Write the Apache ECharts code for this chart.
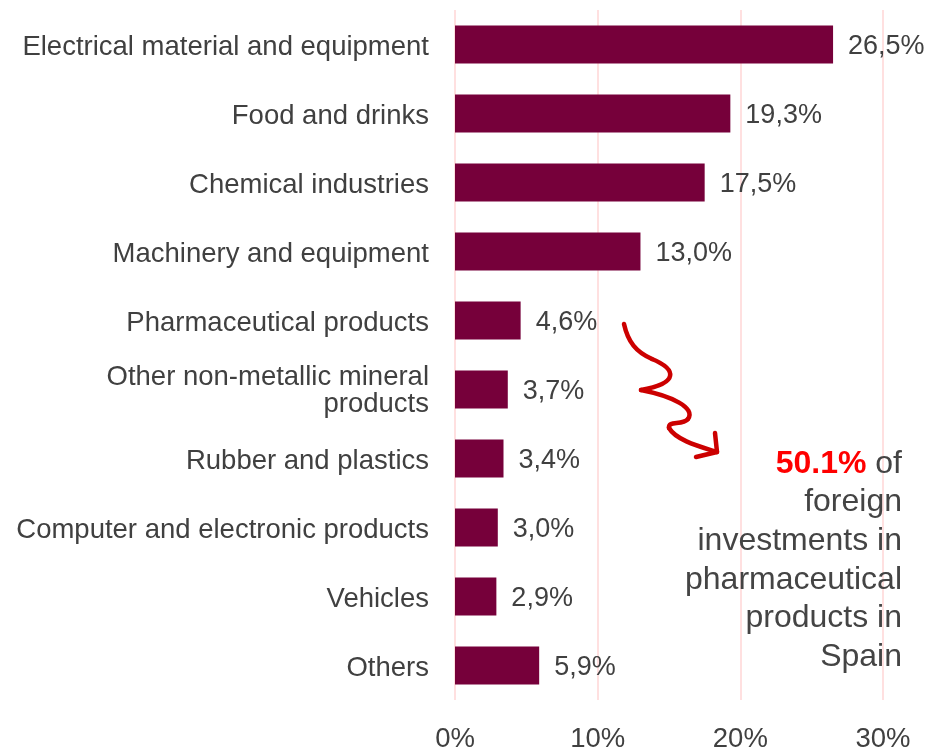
<!DOCTYPE html>
<html>
<head>
<meta charset="utf-8">
<script src="https://cdn.jsdelivr.net/npm/echarts@6/dist/echarts.min.js"></script>
<style>
html,body{margin:0;padding:0;background:#fff;}
#c{width:932px;height:747px;}
</style>
</head>
<body>
<div id="c"></div>
<script>
var categories = [
  "Electrical material and equipment",
  "Food and drinks",
  "Chemical industries",
  "Machinery and equipment",
  "Pharmaceutical products",
  "Other non-metallic mineral\nproducts",
  "Rubber and plastics",
  "Computer and electronic products",
  "Vehicles",
  "Others"
];
var values = [26.5, 19.3, 17.5, 13.0, 4.6, 3.7, 3.4, 3.0, 2.9, 5.9];
var xTicks = [0, 10, 20, 30];
var annotationLines = ["foreign", "investments in", "pharmaceutical", "products in", "Spain"];
var annotationHighlight = "50.1%";

var FONT = "'Liberation Sans', Arial, Helvetica, sans-serif";
var TEXT = "#404040";

var chart = echarts.init(document.getElementById('c'), null, {renderer: 'canvas'});

var graphics = [];
// squiggly arrow as bezier segments
var segs = [
  [624,324, 628,342, 636,352, 652,359],
  [652,359, 676,369, 680,383, 641,390],
  [641,390, 672,396, 696,408, 688,419],
  [688,419, 682,426, 668,420, 669,428],
  [669,428, 676,440, 698,446, 717,452]
];
segs.forEach(function (s) {
  graphics.push({
    type: 'bezierCurve',
    shape: {x1: s[0], y1: s[1], cpx1: s[2], cpy1: s[3], cpx2: s[4], cpy2: s[5], x2: s[6], y2: s[7]},
    style: {fill: null, stroke: '#CC0000', lineWidth: 4.5, lineCap: 'round'},
    z: 10
  });
});
graphics.push({
  type: 'polyline',
  shape: {points: [[715, 433], [717, 452], [696, 457]]},
  style: {fill: null, stroke: '#CC0000', lineWidth: 4.5, lineCap: 'round', lineJoin: 'round'},
  z: 10
});
// annotation text
var lineH = 38.6;
var annFont = 32;
graphics.push({
  type: 'text',
  x: 902, y: 464,
  style: {
    text: '{r|' + annotationHighlight + '}{g| of}',
    align: 'right', verticalAlign: 'middle',
    rich: {
      r: {fill: '#FF0000', fontSize: annFont, fontWeight: 'bold', fontFamily: FONT},
      g: {fill: '#444444', fontSize: annFont, fontFamily: FONT}
    }
  },
  z: 10
});
annotationLines.forEach(function (t, i) {
  graphics.push({
    type: 'text',
    x: 902, y: 464 + lineH * (i + 1),
    style: {
      text: t, align: 'right', verticalAlign: 'middle',
      fill: '#444444', fontSize: annFont, fontFamily: FONT
    },
    z: 10
  });
});

chart.setOption({
  animation: false,
  backgroundColor: '#ffffff',
  grid: {left: 455, right: 49, top: 10, bottom: 47, containLabel: false, outerBoundsMode: 'none'},
  xAxis: {
    type: 'value',
    min: 0, max: 30, interval: 10,
    axisLine: {show: false},
    axisTick: {show: false},
    splitLine: {show: true, lineStyle: {color: '#FFD6D6', width: 1.5}},
    axisLabel: {
      color: TEXT, fontSize: 27.5, fontFamily: FONT, margin: 25,
      formatter: function (v) { return v + '%'; }
    }
  },
  yAxis: {
    type: 'category',
    data: categories,
    inverse: true,
    axisLine: {show: false},
    axisTick: {show: false},
    splitLine: {show: false},
    axisLabel: {
      color: TEXT, fontSize: 27.5, fontFamily: FONT, margin: 26,
      lineHeight: 30, align: 'right',
      formatter: function (v) {
        return v.split('\n').map(function (line, i) {
          return (i === 0 ? '{f|' : '{n|') + line + '}';
        }).join('\n');
      },
      rich: {
        f: {color: TEXT, fontSize: 27.5, fontFamily: FONT, lineHeight: 30, align: 'right', padding: [5, 0, 0, 0]},
        n: {color: TEXT, fontSize: 27.5, fontFamily: FONT, lineHeight: 30, align: 'right'}
      }
    }
  },
  series: [{
    type: 'bar',
    data: values,
    barWidth: 38,
    itemStyle: {color: '#76003A'},
    label: {
      show: true, position: 'right', distance: 15,
      color: TEXT, fontSize: 27, fontFamily: FONT,
      formatter: function (p) { return '{v|' + p.value.toFixed(1).replace('.', ',') + '%}'; },
      rich: {
        v: {color: TEXT, fontSize: 27, fontFamily: FONT, padding: [5, 0, 0, 0]}
      }
    }
  }],
  graphic: graphics
});
</script>
</body>
</html>
